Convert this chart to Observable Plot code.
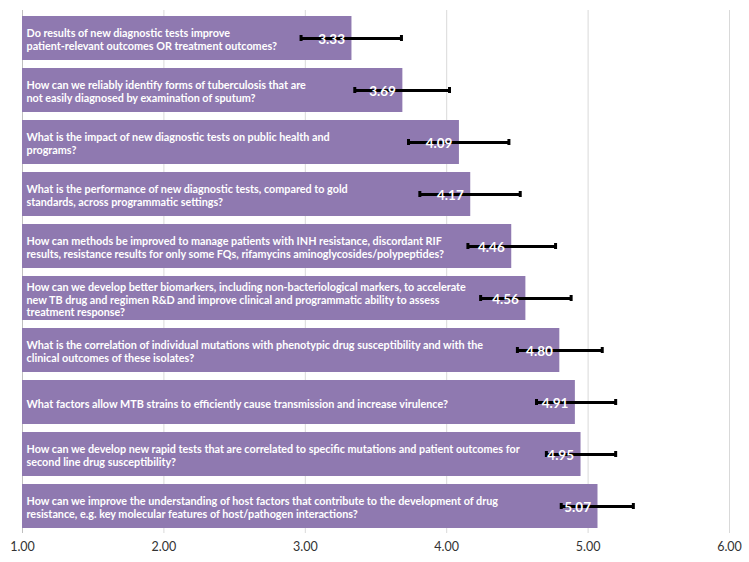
<!DOCTYPE html>
<html>
<head>
<meta charset="utf-8">
<script src="https://cdn.jsdelivr.net/npm/d3@7"></script>
<script src="https://cdn.jsdelivr.net/npm/@observablehq/plot@0.6"></script>
<style>
  html, body { margin: 0; padding: 0; background: #ffffff; }
  #chart { width: 749px; height: 562px; }
</style>
</head>
<body>
<div id="chart"></div>
<script>
const questions = [
  "Do results of new diagnostic tests improve\npatient-relevant outcomes OR treatment outcomes?",
  "How can we reliably identify forms of tuberculosis that are\nnot easily diagnosed by examination of sputum?",
  "What is the impact of new diagnostic tests on public health and\nprograms?",
  "What is the performance of new diagnostic tests, compared to gold\nstandards, across programmatic settings?",
  "How can methods be improved to manage patients with INH resistance, discordant RIF\nresults, resistance results for only some FQs, rifamycins aminoglycosides/polypeptides?",
  "How can we develop better biomarkers, including non-bacteriological markers, to accelerate\nnew TB drug and regimen R&D and improve clinical and programmatic ability to assess\ntreatment response?",
  "What is the correlation of individual mutations with phenotypic drug susceptibility and with the\nclinical outcomes of these isolates?",
  "What factors allow MTB strains to efficiently cause transmission and increase virulence?",
  "How can we develop new rapid tests that are correlated to specific mutations and patient outcomes for\nsecond line drug susceptibility?",
  "How can we improve the understanding of host factors that contribute to the development of drug\nresistance, e.g. key molecular features of host/pathogen interactions?"
];
const means = [3.33, 3.69, 4.09, 4.17, 4.46, 4.56, 4.80, 4.91, 4.95, 5.07];
const lows  = [2.97, 3.35, 3.73, 3.81, 4.15, 4.24, 4.50, 4.635, 4.705, 4.81];
const highs = [3.68, 4.02, 4.44, 4.52, 4.77, 4.88, 5.10, 5.195, 5.195, 5.32];
const xTicks = [1, 2, 3, 4, 5, 6];
const baseline = 1;

const data = questions.map((q, i) => ({q, mean: means[i], lo: lows[i], hi: highs[i]}));
const fmt = d3.format(".2f");

const chart = Plot.plot({
  width: 749,
  height: 562,
  marginTop: 10,
  marginBottom: 29,
  marginLeft: 22,
  marginRight: 20,
  style: {fontFamily: "Lato, 'Open Sans', sans-serif", background: "#ffffff"},
  x: {domain: [1, 6], ticks: xTicks, tickFormat: fmt},
  y: {domain: questions, paddingInner: 0.16, paddingOuter: 0.09, axis: null},
  marks: [
    Plot.gridX(xTicks, {stroke: "#d9d9d9", strokeOpacity: 1}),
    Plot.ruleX([baseline], {stroke: "#bfbfbf"}),
    Plot.barX(data, {x1: () => baseline, x2: "mean", y: "q", fill: "#8f79b0"}),
    Plot.text(data, {
      y: "q", text: "q", frameAnchor: "left", textAnchor: "start", dx: 4, dy: 1,
      fill: "white", fontSize: 10.8, fontWeight: 700, lineHeight: 1.17
    }),
    Plot.ruleY(data, {x1: "lo", x2: "hi", y: "q", stroke: "black", strokeWidth: 3}),
    Plot.tickX(data, {x: "lo", y: "q", stroke: "black", strokeWidth: 3, insetTop: 19, insetBottom: 19}),
    Plot.tickX(data, {x: "hi", y: "q", stroke: "black", strokeWidth: 3, insetTop: 19, insetBottom: 19}),
    Plot.text(data, {
      x: "mean", y: "q", text: d => fmt(d.mean), textAnchor: "end", dx: -7, dy: 1,
      fill: "white", fontSize: 13.5, fontWeight: 700
    }),
    Plot.axisX({ticks: xTicks, tickFormat: fmt, tickSize: 0, tickPadding: 9, fontSize: 12.5, fill: "#333333"})
  ]
});
document.getElementById("chart").appendChild(chart);
</script>
</body>
</html>
